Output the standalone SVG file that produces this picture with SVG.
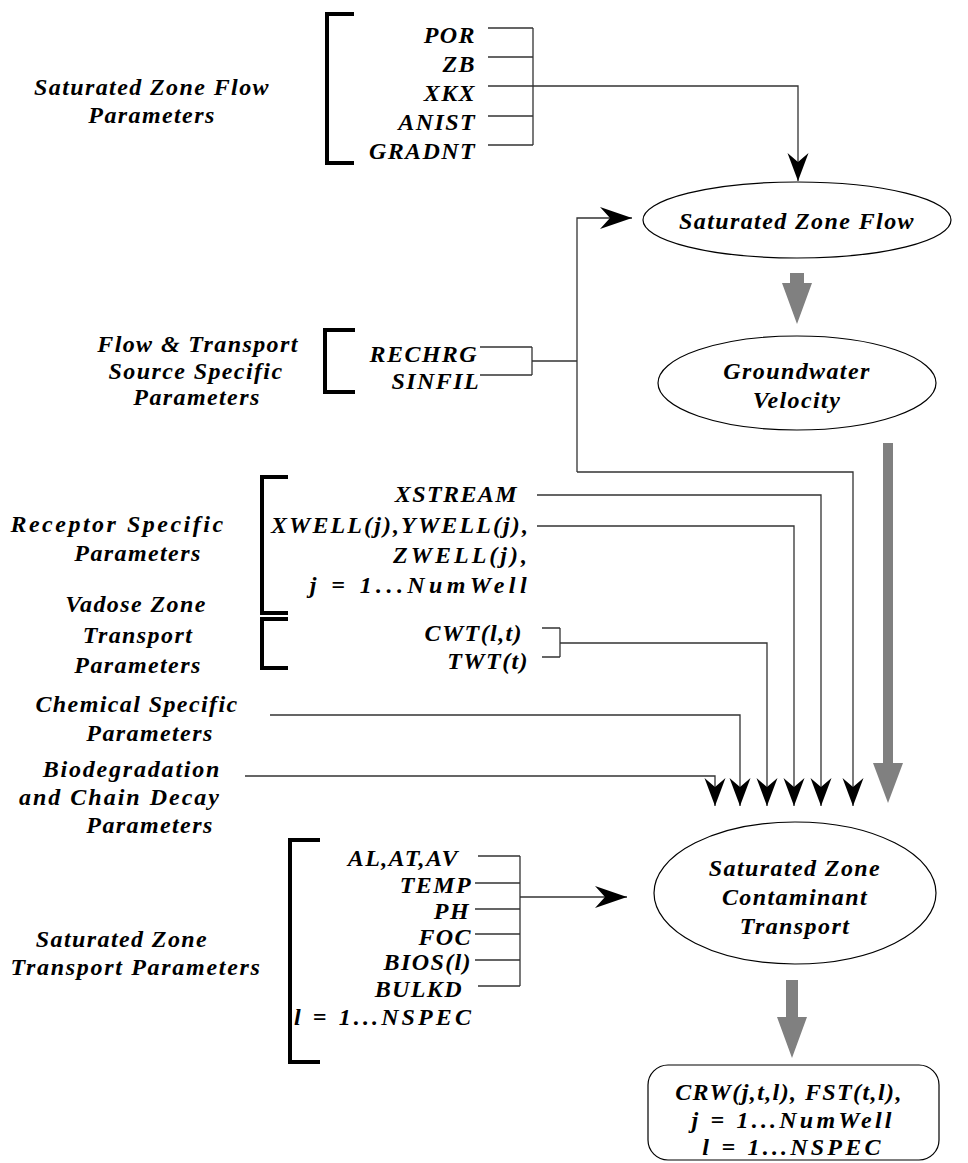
<svg xmlns="http://www.w3.org/2000/svg" width="968" height="1163" viewBox="0 0 968 1163">
<style>
text{font-family:"Liberation Serif","Times New Roman",serif;font-weight:bold;font-style:italic;font-size:24px;letter-spacing:1.4px;fill:#000}
.c{text-anchor:middle}
.r{text-anchor:end}
.w{letter-spacing:3.2px}
.br{fill:none;stroke:#000;stroke-width:4}
.ln{fill:none;stroke:#333;stroke-width:1.3}
.nd{fill:#fff;stroke:#000;stroke-width:1.2}
.ga{fill:#808080}
</style>
<defs>
<marker id="ad" viewBox="-28 -11 29 22" refX="0" refY="0" markerWidth="29" markerHeight="22" markerUnits="userSpaceOnUse" orient="auto">
<path d="M0,0 L-28,-10.5 L-19,0 L-28,10.5 Z" fill="#000"/>
</marker>
<marker id="al" viewBox="-33 -12 34 24" refX="0" refY="0" markerWidth="34" markerHeight="24" markerUnits="userSpaceOnUse" orient="auto">
<path d="M0,0 L-32,-11 L-22,0 L-32,11 Z" fill="#000"/>
</marker>
</defs>
<rect width="968" height="1163" fill="#fff"/>

<g id="labels">
<text class="c" x="152" y="95">Saturated Zone Flow</text>
<text class="c" x="152" y="123">Parameters</text>
<text class="c" x="198" y="352">Flow &amp; Transport</text>
<text class="c" x="196" y="379">Source Specific</text>
<text class="c" x="197" y="405">Parameters</text>
<text class="c" x="118" y="532" style="letter-spacing:2.5px">Receptor Specific</text>
<text class="c" x="138" y="561">Parameters</text>
<text class="c" x="136" y="612">Vadose Zone</text>
<text class="c" x="138" y="643">Transport</text>
<text class="c" x="138" y="673">Parameters</text>
<text class="c" x="137" y="712">Chemical Specific</text>
<text class="c" x="150" y="741">Parameters</text>
<text class="c" x="132" y="777" style="letter-spacing:1.8px">Biodegradation</text>
<text class="c" x="120" y="805" style="letter-spacing:2px">and Chain Decay</text>
<text class="c" x="150" y="833">Parameters</text>
<text class="c" x="122" y="947">Saturated Zone</text>
<text class="c" x="136" y="975" style="letter-spacing:1.7px">Transport Parameters</text>
</g>

<g id="flow-params">
<path class="br" d="M354,14 H327 V163 H354"/>
<text class="r" x="476" y="43">POR</text>
<text class="r" x="476" y="72">ZB</text>
<text class="r" x="476" y="101">XKX</text>
<text class="r" x="476" y="130">ANIST</text>
<text class="r" x="476" y="159">GRADNT</text>
</g>

<g id="source-params">
<path class="br" d="M355,330 H325 V392 H355"/>
<text class="r" x="478" y="362">RECHRG</text>
<text class="r" x="480" y="389">SINFIL</text>
</g>

<g id="receptor-params">
<path class="br" d="M288,477 H262 V613 H288"/>
<text class="r" x="518" y="502">XSTREAM</text>
<text class="r" x="530" y="533" style="letter-spacing:2.1px">XWELL(j),YWELL(j),</text>
<text class="r" x="530" y="563" style="letter-spacing:3px">ZWELL(j),</text>
<text class="r" x="531" y="593" style="letter-spacing:4.4px">j = 1...NumWell</text>
</g>

<g id="vadose-params">
<path class="br" d="M288,619 H262 V668 H288"/>
<text class="r" x="523" y="641">CWT(l,t)</text>
<text class="r" x="529" y="669">TWT(t)</text>
</g>

<g id="transport-params">
<path class="br" d="M320,840 H290 V1062 H320"/>
<text class="r" x="459" y="866">AL,AT,AV</text>
<text class="r" x="472" y="893">TEMP</text>
<text class="r" x="470" y="919">PH</text>
<text class="r" x="472" y="945">FOC</text>
<text class="r" x="472" y="970">BIOS(l)</text>
<text class="r" x="463" y="997">BULKD</text>
<text class="r" x="474" y="1025" style="letter-spacing:3.1px">l = 1...NSPEC</text>
</g>

<g id="sz-flow">
<ellipse class="nd" cx="797" cy="220" rx="154" ry="38"/>
<text class="c" x="797" y="229">Saturated Zone Flow</text>
</g>

<g id="gw-velocity">
<ellipse class="nd" cx="797" cy="383" rx="139" ry="47"/>
<text class="c" x="797" y="379">Groundwater</text>
<text class="c" x="797" y="408">Velocity</text>
</g>

<g id="sz-transport">
<ellipse class="nd" cx="795" cy="893" rx="141" ry="71"/>
<text class="c" x="795" y="876">Saturated Zone</text>
<text class="c" x="795" y="905">Contaminant</text>
<text class="c" x="795" y="934">Transport</text>
</g>

<g id="output">
<rect class="nd" x="648" y="1065" width="291" height="95" rx="20" ry="20"/>
<text class="c" x="789" y="1100">CRW(j,t,l), FST(t,l),</text>
<text class="c w" x="793" y="1128">j = 1...NumWell</text>
<text class="c w" x="793" y="1155">l = 1...NSPEC</text>
</g>

<g id="connectors">
<path class="ln" d="M488,28 H533 M488,57 H533 M488,116 H533 M488,145 H533 M533,28 V145"/>
<path class="ln" d="M488,86 H798 V181" marker-end="url(#ad)"/>
<path class="ln" d="M480,347 H532 M480,375 H532 M532,347 V375 M532,361 H577"/>
<path class="ln" d="M577,472 V218 H632" marker-end="url(#al)"/>
<path class="ln" d="M577,472 H853 V806" marker-end="url(#ad)"/>
<path class="ln" d="M537,495 H821 V806" marker-end="url(#ad)"/>
<path class="ln" d="M537,526 H794 V806" marker-end="url(#ad)"/>
<path class="ln" d="M542,628 H560 M542,657 H560 M560,628 V657"/>
<path class="ln" d="M560,643 H767 V806" marker-end="url(#ad)"/>
<path class="ln" d="M270,715 H740 V806" marker-end="url(#ad)"/>
<path class="ln" d="M245,776 H715 V806" marker-end="url(#ad)"/>
<path class="ln" d="M478,856 H520 M475,883 H520 M475,909 H520 M475,934 H520 M475,960 H520 M478,986 H520 M520,856 V986"/>
<path class="ln" d="M520,897 H627" marker-end="url(#al)"/>
<path class="ga" d="M790,273 H804 V283 H812 L797,324 L782,283 H790 Z"/>
<path class="ga" d="M883,443 H893 V763 H903 L888,803 L873,763 H883 Z"/>
<path class="ga" d="M786,980 H798 V1017 H807 L792,1058 L777,1017 H786 Z"/>
</g>
</svg>
